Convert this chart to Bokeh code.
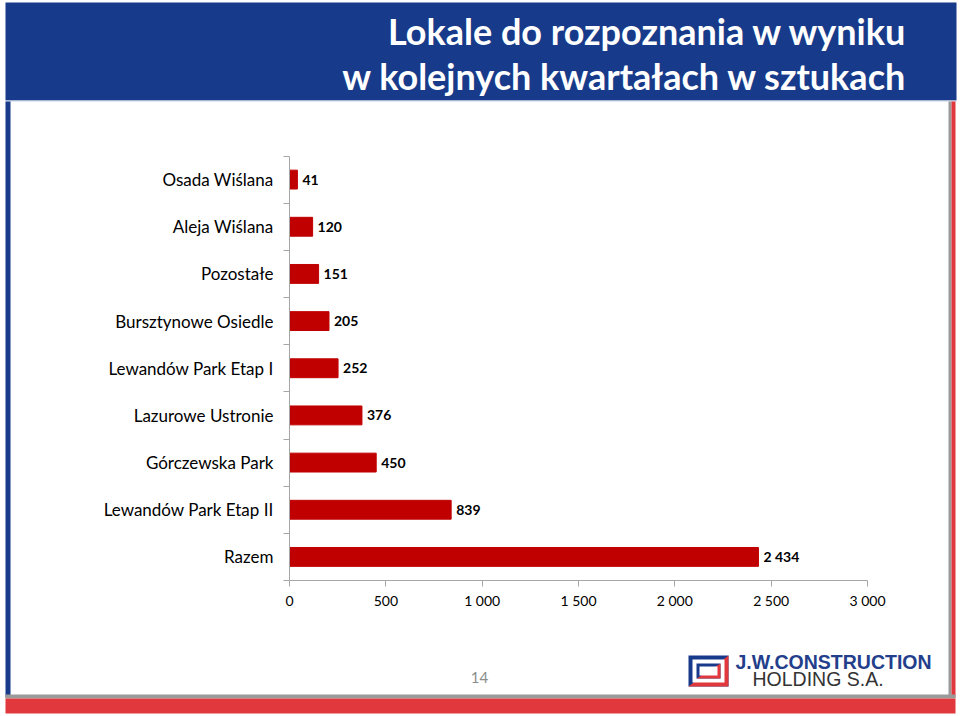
from bokeh.plotting import figure
from bokeh.models import Range1d, FixedTicker, LinearAxis
from bokeh.core.properties import value
from bokeh.embed import file_html
from bokeh.resources import INLINE

# ---- data ----
categories = ["Osada Wiślana", "Aleja Wiślana", "Pozostałe", "Bursztynowe Osiedle",
              "Lewandów Park Etap I", "Lazurowe Ustronie", "Górczewska Park",
              "Lewandów Park Etap II", "Razem"]
values = [41, 120, 151, 205, 252, 376, 450, 839, 2434]
x_ticks = [0, 500, 1000, 1500, 2000, 2500, 3000]
x_tick_labels = ["0", "500", "1 000", "1 500", "2 000", "2 500", "3 000"]
title_lines = ["Lokale do rozpoznania w wyniku", "w kolejnych kwartałach w sztukach"]
page_number = "14"
logo_lines = ["J.W.CONSTRUCTION", "HOLDING S.A."]

# ---- styles / layout (pixels) ----
BLUE = "#173B8A"
RED_BAND = "#E0383C"
BAR_RED = "#C00000"
GRAY_AX = "#A6A6A6"
FONT = "Lato"

W, H = 958, 714
X0_PX, X1_PX = 289.0, 867.0      # value axis: 0 .. 3000
Y_TOP, Y_BOT = 155.5, 580.0      # category band
X_MAX = 3000.0

n = len(categories)
centers = [i + 0.5 for i in range(n)]
bar_labels = [f"{v:,}".replace(",", " ") for v in values]

# pixel canvas (frame covers whole canvas, y downwards)
p = figure(width=W, height=H, output_backend="svg", toolbar_location=None,
           x_range=Range1d(0, W), y_range=Range1d(H, 0),
           x_axis_location=None, y_axis_location=None, min_border=0)
p.outline_line_color = None
p.grid.visible = False
p.background_fill_color = "white"
p.border_fill_color = "white"

# chart scales mapped onto the pixel canvas
sx = (X1_PX - X0_PX) / X_MAX
p.extra_x_ranges = {"val": Range1d(-X0_PX / sx, (W - X0_PX) / sx)}
per = (Y_BOT - Y_TOP) / n
p.extra_y_ranges = {"cat": Range1d((H - Y_TOP) / per, -Y_TOP / per)}

# ---- slide decorations ----
def rect(l, t, r, b, color):
    p.quad(left=[l], right=[r], top=[t], bottom=[b], fill_color=color,
           line_color=None)


rect(5, 2, 956, 100, BLUE)                 # banner
rect(5, 100, 956, 101, "#C5CFE6")
rect(5, 101, 10, 697, BLUE)                # left border
rect(948, 101, 951, 697, "#9A9A9A")        # right border
rect(951, 101, 955, 697, RED_BAND)
rect(5, 694, 955, 698, "#9A9A9A")          # bottom bands
rect(5, 698, 955, 713, RED_BAND)

p.text(x=[907, 907], y=[30, 75], text=title_lines, text_align="right",
       text_baseline="middle", text_font=value(FONT), text_font_style="bold",
       text_font_size="36px", text_color="white")

p.text(x=[479], y=[677], text=[page_number], text_align="center",
       text_baseline="middle", text_font=value(FONT), text_font_size="15px",
       text_color="#8C8C8C")

# logo icon
rect(688, 655, 728, 686, BLUE)
p.patch(x=[728, 728, 688], y=[655, 686, 686], fill_color=RED_BAND, line_color=None)
rect(692, 659, 724, 682, "white")
rect(696, 663, 720, 678, BLUE)
p.patch(x=[720, 720, 696], y=[663, 678, 678], fill_color=RED_BAND, line_color=None)
rect(699, 666, 717, 675, "white")
p.text(x=[735], y=[661], text=[logo_lines[0]], text_align="left",
       text_baseline="middle", text_font=value("Liberation Sans"),
       text_font_style="bold", text_font_size="19.5px", text_color="#233E8B")
p.text(x=[752], y=[678], text=[logo_lines[1]], text_align="left",
       text_baseline="middle", text_font=value("Liberation Sans"),
       text_font_size="19.5px", text_color="#333333")

# ---- chart ----
p.hbar(y=centers, left=0, right=values, height=0.4, fill_color=BAR_RED,
       line_color=BAR_RED, x_range_name="val", y_range_name="cat")
p.text(x=values, y=centers, text=bar_labels, x_offset=5, text_baseline="middle",
       text_align="left", text_font=value(FONT), text_font_style="bold",
       text_font_size="14px", text_color="black",
       x_range_name="val", y_range_name="cat")

xa = LinearAxis(x_range_name="val", y_range_name="cat", fixed_location=n,
                bounds=(0, X_MAX),
                ticker=FixedTicker(ticks=x_ticks, minor_ticks=[]))
xa.major_label_overrides = {t: l for t, l in zip(x_ticks, x_tick_labels)}
xa.axis_line_color = GRAY_AX
xa.major_tick_line_color = GRAY_AX
xa.major_tick_out = 6
xa.major_tick_in = 0
xa.minor_tick_line_color = None
xa.major_label_standoff = 5
xa.major_label_text_font = FONT
xa.major_label_text_font_size = "14px"
xa.major_label_text_color = "black"
p.add_layout(xa, "below")

ya = LinearAxis(x_range_name="val", y_range_name="cat", fixed_location=0,
                bounds=(0, n),
                ticker=FixedTicker(ticks=centers, minor_ticks=list(range(n + 1))))
ya.major_label_overrides = {c: l for c, l in zip(centers, categories)}
ya.axis_line_color = GRAY_AX
ya.major_tick_line_color = None
ya.major_tick_out = 0
ya.major_tick_in = 0
ya.minor_tick_line_color = GRAY_AX
ya.minor_tick_out = 6
ya.minor_tick_in = 0
ya.major_label_standoff = 10
ya.major_label_text_font = FONT
ya.major_label_text_font_size = "17px"
ya.major_label_text_color = "black"
p.add_layout(ya, "left")

open("out.html", "w").write(file_html(p, INLINE))
